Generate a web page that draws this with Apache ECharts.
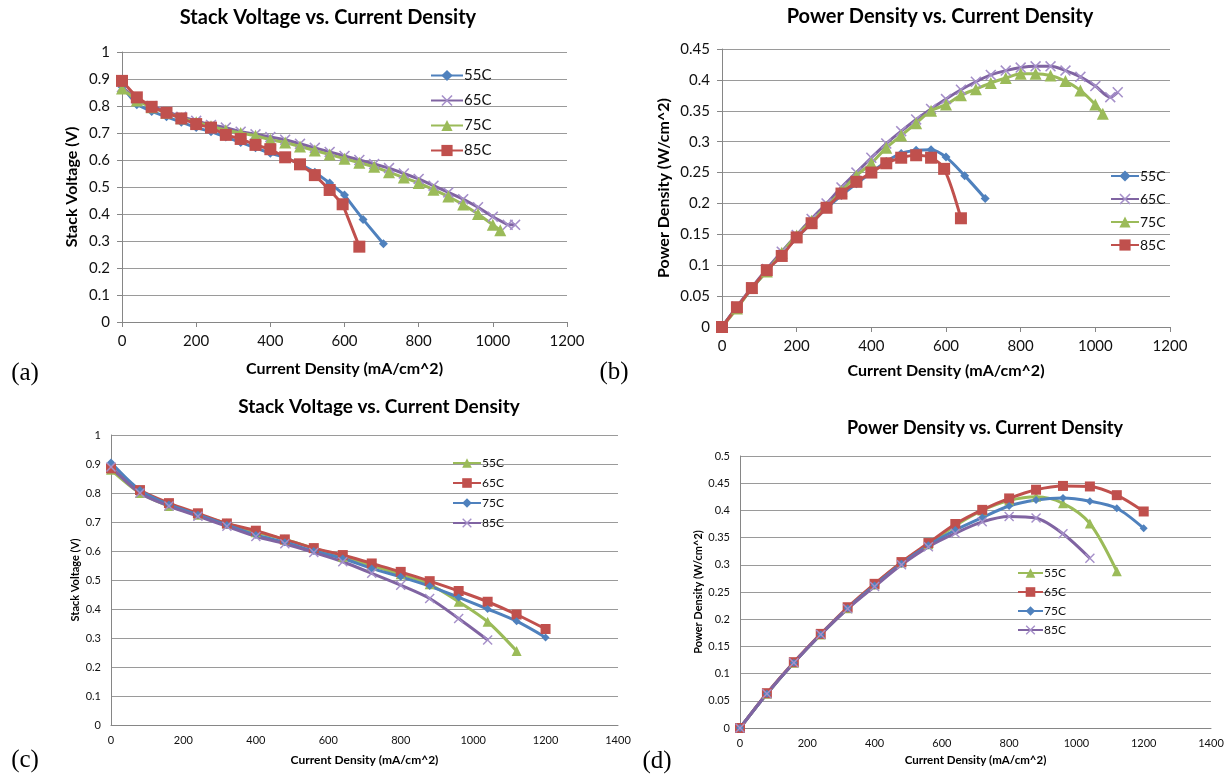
<!DOCTYPE html>
<html>
<head>
<meta charset="utf-8">
<script src="https://cdn.jsdelivr.net/npm/echarts@6/dist/echarts.min.js"></script>
<style>
body { margin: 0; background: #fff; }
.panel { position: absolute; left: 0; top: 0; width: 1228px; height: 774px; }
</style>
</head>
<body>
<div id="pa" class="panel"></div>
<div id="pb" class="panel"></div>
<div id="pc" class="panel"></div>
<div id="pd" class="panel"></div>
<script>
// ---- (a) stack voltage, first stack
var a55x = [0,40,80,120,160,200,240,280,320,360,400,440,480,520,560,600,650,705];
var a55v = [0.87,0.805,0.78,0.76,0.74,0.72,0.705,0.685,0.665,0.645,0.625,0.61,0.585,0.555,0.515,0.47,0.38,0.29];
var a65x = [0,40,80,120,160,200,240,280,320,360,400,440,480,520,560,600,640,680,720,760,800,840,880,920,960,1000,1040,1060];
var a65v = [0.87,0.825,0.80,0.78,0.76,0.745,0.73,0.72,0.705,0.695,0.685,0.675,0.66,0.645,0.63,0.615,0.60,0.585,0.57,0.55,0.53,0.505,0.48,0.455,0.425,0.39,0.36,0.36];
var a75x = [0,40,80,120,160,200,240,280,320,360,400,440,480,520,560,600,640,680,720,760,800,840,880,920,960,1000,1020];
var a75v = [0.865,0.82,0.795,0.775,0.755,0.74,0.725,0.71,0.70,0.69,0.675,0.665,0.65,0.635,0.62,0.605,0.59,0.575,0.555,0.535,0.515,0.49,0.465,0.435,0.40,0.36,0.34];
var a85x = [0,40,80,120,160,200,240,280,320,360,400,440,480,520,560,595,640];
var a85v = [0.893,0.832,0.797,0.775,0.754,0.733,0.72,0.693,0.678,0.656,0.64,0.61,0.584,0.544,0.489,0.436,0.279];

// ---- (b) power density, first stack (same currents as (a))
var b55p = [0,0.032,0.062,0.091,0.118,0.144,0.169,0.192,0.213,0.232,0.25,0.268,0.281,0.286,0.287,0.275,0.245,0.208];
var b65p = [0,0.033,0.064,0.094,0.122,0.149,0.175,0.2,0.226,0.25,0.274,0.297,0.317,0.336,0.353,0.369,0.384,0.397,0.408,0.415,0.42,0.422,0.422,0.415,0.405,0.39,0.372,0.38];
var b75p = [0,0.03,0.063,0.09,0.12,0.148,0.172,0.195,0.22,0.245,0.265,0.29,0.31,0.33,0.35,0.36,0.375,0.385,0.395,0.403,0.41,0.41,0.407,0.398,0.383,0.36,0.345];
var b85p = [0,0.032,0.063,0.092,0.115,0.145,0.168,0.193,0.216,0.235,0.25,0.265,0.274,0.278,0.274,0.256,0.176];

// ---- (c) stack voltage, second stack
var cX = [0,80,160,240,320,400,480,560,640,720,800,880,960,1040,1120,1200];
var c55v = [0.88,0.80,0.755,0.725,0.695,0.665,0.64,0.61,0.58,0.55,0.52,0.485,0.425,0.356,0.255];
var c65v = [0.885,0.81,0.765,0.73,0.695,0.67,0.64,0.61,0.586,0.557,0.528,0.496,0.462,0.425,0.381,0.331];
var c75v = [0.905,0.81,0.76,0.725,0.69,0.655,0.63,0.60,0.574,0.54,0.511,0.479,0.44,0.40,0.358,0.302];
var c85v = [0.89,0.80,0.755,0.72,0.685,0.65,0.625,0.595,0.563,0.523,0.482,0.436,0.367,0.293];

// ---- (d) power density, second stack
var d55p = [0,0.063,0.12,0.172,0.22,0.264,0.304,0.338,0.372,0.40,0.418,0.425,0.413,0.376,0.288];
var d65p = [0,0.064,0.121,0.173,0.222,0.265,0.305,0.34,0.375,0.401,0.422,0.438,0.445,0.444,0.428,0.398];
var d75p = [0,0.063,0.12,0.172,0.22,0.262,0.302,0.336,0.364,0.387,0.408,0.419,0.423,0.417,0.404,0.367];
var d85p = [0,0.063,0.12,0.172,0.219,0.26,0.30,0.333,0.358,0.379,0.389,0.386,0.357,0.312];

var FONT = 'Lato, "Open Sans", sans-serif';
var BLUE = '#4F81BD', RED = '#C0504D', GREEN = '#9BBB59', PURPLE = '#8064A2';
var XSYM = 'path://M0,1L1,0L5,4L9,0L10,1L6,5L10,9L9,10L5,6L1,10L0,9L4,5Z';

function pairs(xs, ys) {
	return ys.map(function(y, i) { return [xs[i], y]; });
}

function buildPanel(id, p) {
	var chart = echarts.init(document.getElementById(id));
	var series = p.series.map(function(s) {
		return {
			name: s.name,
			type: 'line',
			data: pairs(s.x, s.y),
			smooth: p.smooth,
			symbol: s.symbol,
			symbolSize: s.size,
			lineStyle: { color: s.color, width: p.lineW },
			itemStyle: { color: s.mark || s.color },
			emphasis: { disabled: true }
		};
	});
	var axisLine = { show: true, lineStyle: { color: '#868686', width: 1 } };
	chart.setOption({
		animation: false,
		grid: { left: p.box[0], top: p.box[1], width: p.box[2] - p.box[0], height: p.box[3] - p.box[1] },
		xAxis: {
			type: 'value', min: 0, max: p.xMax, interval: 200,
			name: 'Current Density (mA/cm^2)', nameLocation: 'middle', nameGap: p.xGap,
			nameTextStyle: { fontWeight: 'bold', fontSize: p.xNameSize, color: '#000', fontFamily: FONT },
			axisLine: axisLine,
			axisTick: { show: p.ticks, length: 5, lineStyle: { color: '#868686' } },
			axisLabel: {
				fontSize: p.tickSize, color: '#111', margin: p.xMargin, fontFamily: FONT,
				formatter: function(v) { return String(v); }
			},
			splitLine: { show: false }
		},
		yAxis: {
			type: 'value', min: 0, max: p.yMax, interval: p.yInt,
			name: p.yName, nameLocation: 'middle', nameGap: p.yGap,
			nameTextStyle: { fontWeight: 'bold', fontSize: p.yNameSize, color: '#000', fontFamily: FONT },
			axisLine: axisLine,
			axisTick: { show: p.ticks, length: 5, lineStyle: { color: '#868686' } },
			axisLabel: {
				fontSize: p.tickSize, color: '#111', margin: p.yMargin, fontFamily: FONT,
				formatter: function(v) { return String(+v.toFixed(2)); }
			},
			splitLine: { show: true, lineStyle: { color: '#9a9a9a', width: 1 } }
		},
		legend: {
			orient: 'vertical', left: p.leg[0], top: p.leg[1],
			itemWidth: p.leg[2], itemHeight: p.leg[3], itemGap: p.leg[4],
			textStyle: { fontSize: p.legSize, color: '#111', fontFamily: FONT, padding: [0, 0, 0, -4] },
			data: p.series.map(function(s) { return s.name; })
		},
		graphic: [
			{ type: 'text', x: p.title[1], y: p.title[2], silent: true,
			  style: { text: p.title[0], textAlign: 'center', textVerticalAlign: 'middle',
			           font: 'bold ' + p.title[3] + 'px ' + FONT, fill: '#000' } },
			{ type: 'text', x: p.tag[1], y: p.tag[2], silent: true,
			  style: { text: p.tag[0], textAlign: 'center', textVerticalAlign: 'middle',
			           font: '25px "Liberation Serif", serif', fill: '#000' } }
		],
		series: series
	});
}

buildPanel('pa', {
	box: [122, 52, 567, 322], xMax: 1200, yMax: 1, yInt: 0.1,
	yName: 'Stack Voltage (V)', xGap: 39, yGap: 42, xNameSize: 16, yNameSize: 16, tickSize: 15,
	xMargin: 12, yMargin: 12, ticks: true, lineW: 3, smooth: false,
	leg: [425, 63, 32, 14, 10], legSize: 15,
	title: ['Stack Voltage vs. Current Density', 328, 18, 20],
	tag: ['(a)', 25, 373],
	series: [
		{ name: '55C', x: a55x, y: a55v, color: BLUE, symbol: 'diamond', size: 9 },
		{ name: '65C', x: a65x, y: a65v, color: PURPLE, mark: '#a58fc9', symbol: XSYM, size: 11 },
		{ name: '75C', x: a75x, y: a75v, color: GREEN, symbol: 'triangle', size: 12 },
		{ name: '85C', x: a85x, y: a85v, color: RED, symbol: 'rect', size: 12 }
	]
});

buildPanel('pb', {
	box: [722, 49, 1170, 327], xMax: 1200, yMax: 0.45, yInt: 0.05,
	yName: 'Power Density (W/cm^2)', xGap: 36, yGap: 50, xNameSize: 16, yNameSize: 16, tickSize: 15,
	xMargin: 12, yMargin: 12, ticks: true, lineW: 3, smooth: 0.3,
	leg: [1105, 164, 28, 14, 9], legSize: 14,
	title: ['Power Density vs. Current Density', 940, 17, 20],
	tag: ['(b)', 614, 372],
	series: [
		{ name: '55C', x: a55x, y: b55p, color: BLUE, symbol: 'diamond', size: 9 },
		{ name: '65C', x: a65x, y: b65p, color: PURPLE, mark: '#a58fc9', symbol: XSYM, size: 11 },
		{ name: '75C', x: a75x, y: b75p, color: GREEN, symbol: 'triangle', size: 12 },
		{ name: '85C', x: a85x, y: b85p, color: RED, symbol: 'rect', size: 12 }
	]
});

buildPanel('pc', {
	box: [111, 435, 618, 725], xMax: 1400, yMax: 1, yInt: 0.1,
	yName: 'Stack Voltage (V)', xGap: 29, yGap: 30, xNameSize: 12, yNameSize: 11, tickSize: 11,
	xMargin: 10, yMargin: 10, ticks: false, lineW: 3, smooth: 0.3,
	leg: [447, 452, 28, 12, 8], legSize: 12,
	title: ['Stack Voltage vs. Current Density', 379, 407, 19],
	tag: ['(c)', 25, 760],
	series: [
		{ name: '55C', x: cX, y: c55v, color: GREEN, symbol: 'triangle', size: 10 },
		{ name: '65C', x: cX, y: c65v, color: RED, symbol: 'rect', size: 10 },
		{ name: '75C', x: cX, y: c75v, color: BLUE, symbol: 'diamond', size: 8 },
		{ name: '85C', x: cX, y: c85v, color: PURPLE, mark: '#a58fc9', symbol: XSYM, size: 10 }
	]
});

buildPanel('pd', {
	box: [740, 456, 1211, 728], xMax: 1400, yMax: 0.5, yInt: 0.05,
	yName: 'Power Density (W/cm^2)', xGap: 26, yGap: 34, xNameSize: 11.5, yNameSize: 11, tickSize: 11,
	xMargin: 10, yMargin: 10, ticks: false, lineW: 3, smooth: 0.3,
	leg: [1012, 562, 25, 12, 7], legSize: 12,
	title: ['Power Density vs. Current Density', 985, 428, 18],
	tag: ['(d)', 657, 761],
	series: [
		{ name: '55C', x: cX, y: d55p, color: GREEN, symbol: 'triangle', size: 10 },
		{ name: '65C', x: cX, y: d65p, color: RED, symbol: 'rect', size: 10 },
		{ name: '75C', x: cX, y: d75p, color: BLUE, symbol: 'diamond', size: 8 },
		{ name: '85C', x: cX, y: d85p, color: PURPLE, mark: '#a58fc9', symbol: XSYM, size: 10 }
	]
});
</script>
</body>
</html>
